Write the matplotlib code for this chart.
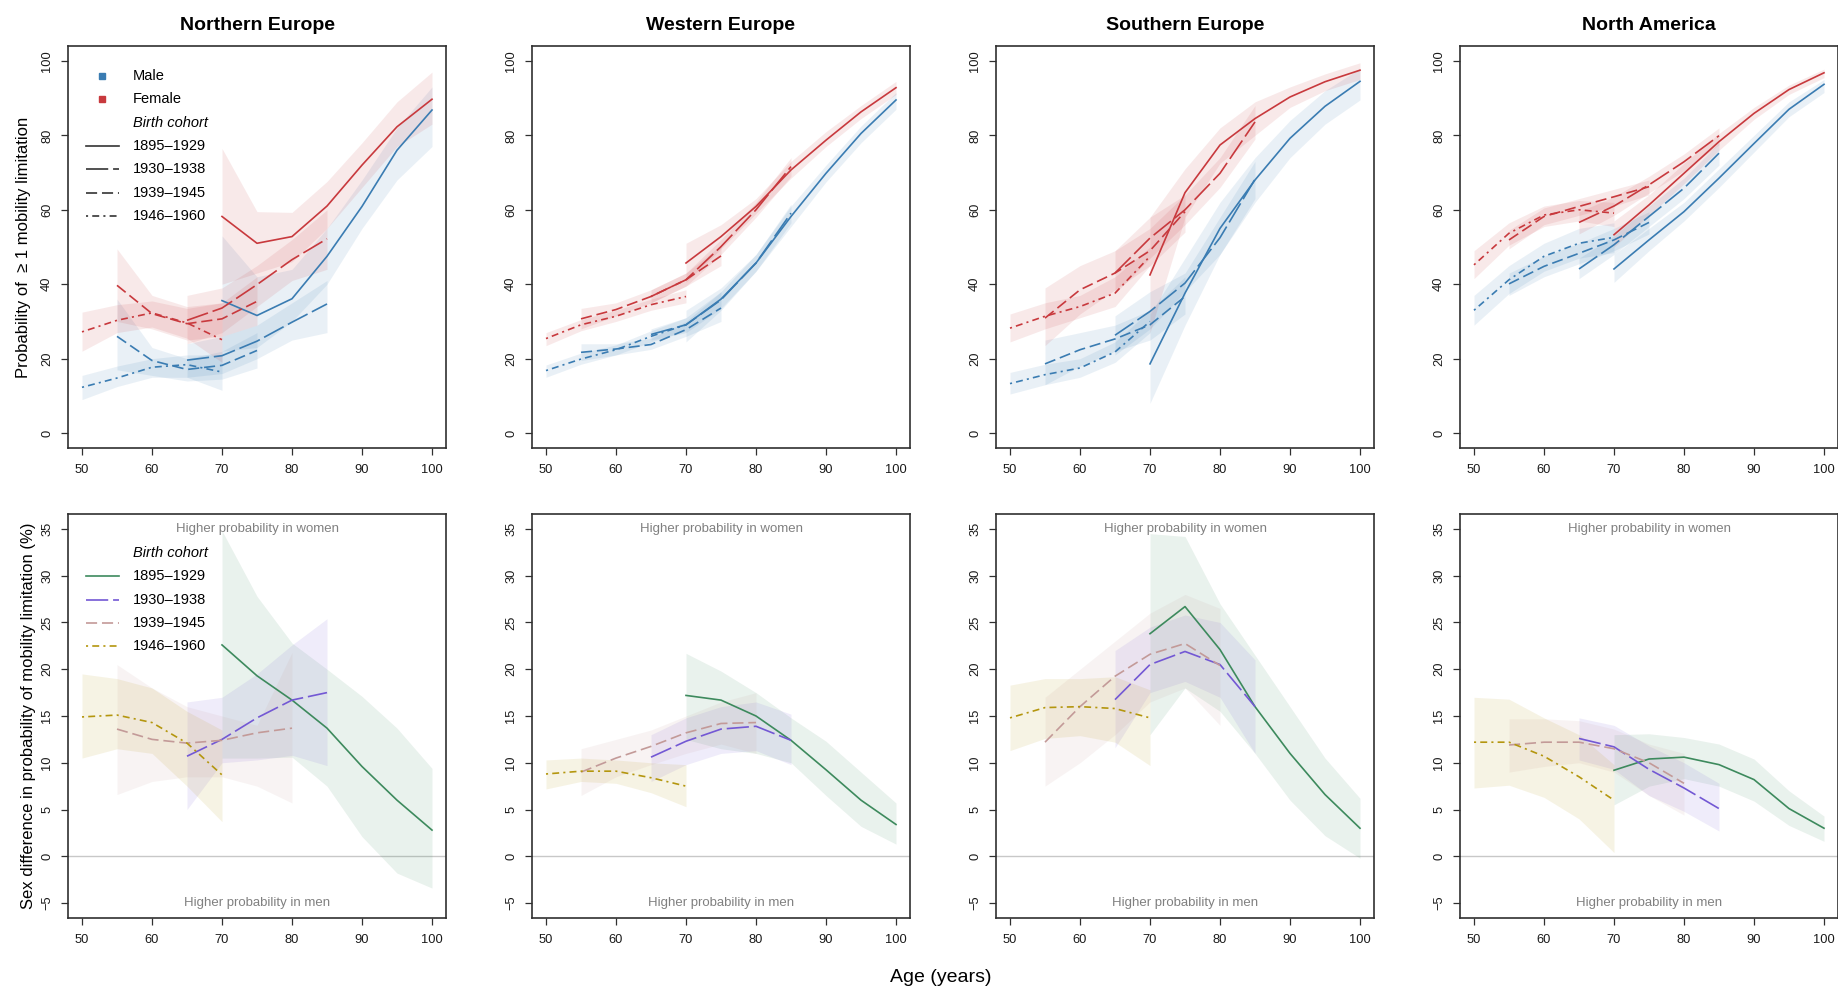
import matplotlib
matplotlib.use("Agg")
import matplotlib.pyplot as plt

plt.rcParams['font.family'] = ['Liberation Sans', 'DejaVu Sans']
plt.rcParams['lines.scale_dashes'] = False

# ---------------------------------------------------------------- data
regions = ["Northern Europe", "Western Europe", "Southern Europe", "North America"]
cohorts = ["1895–1929", "1930–1938", "1939–1945", "1946–1960"]

# ages observed for each birth cohort (probability panels)
ages_prob = [
    [70, 75, 80, 85, 90, 95, 100],
    [65, 70, 75, 80, 85],
    [55, 60, 65, 70, 75],
    [50, 55, 60, 65, 70],
]
# ages observed for each birth cohort (sex-difference panels)
ages_diff = [
    [70, 75, 80, 85, 90, 95, 100],
    [65, 70, 75, 80, 85],
    [55, 60, 65, 70, 75, 80],
    [50, 55, 60, 65, 70],
]

# Probability of >= 1 mobility limitation (%), per cohort: estimate, lower, upper
north_f_est = [[58.2, 51.0, 52.8, 61.0, 72.0, 82.3, 89.7], [30.3, 33.6, 39.9, 46.6, 52.2],
               [39.7, 32.1, 29.4, 30.7, 35.4], [27.2, 30.3, 32.3, 29.6, 25.1]]
north_f_lo = [[40, 43, 46, 55, 66, 77, 83], [24, 27, 34, 41, 44],
              [30, 28, 25, 26, 29], [22, 27, 28.5, 25.5, 19]]
north_f_hi = [[76.5, 59.5, 59.3, 67.6, 78, 89, 97], [37, 39, 45, 52, 60],
              [49.5, 37, 34, 35, 42], [32.5, 34.5, 35.5, 33.5, 35]]
north_m_est = [[35.6, 31.6, 36.1, 47.5, 60.9, 76.0, 86.8], [19.6, 20.8, 24.7, 29.8, 34.7],
               [26.0, 19.5, 17.1, 18.2, 22.2], [12.3, 14.8, 17.7, 18.4, 16.4]]
north_m_lo = [[22, 23, 30, 40, 55, 68, 77], [15, 16, 20, 25, 27],
              [17, 15.5, 14, 14.5, 17.5], [9, 12.5, 15, 15, 11.5]]
north_m_hi = [[53, 42, 44, 55, 68, 82, 93], [24, 26, 29, 35, 41],
              [36, 23, 20, 22, 27], [15.5, 18, 20, 21, 21]]

west_f_est = [[45.7, 52.8, 60.9, 70.7, 78.7, 86.3, 92.8], [36.7, 41.2, 50.1, 60.0, 71.6],
              [30.7, 33.2, 36.7, 41.2, 47.6], [25.4, 29.1, 31.4, 34.5, 36.7]]
west_f_lo = [[40.5, 49.5, 59, 68.5, 77, 84.5, 91], [35, 39.5, 48, 58, 69],
             [28, 31.5, 35, 39.5, 45], [23.5, 27.5, 30, 33, 35]]
west_f_hi = [[51, 56, 63, 73, 81, 88, 94.5], [38.5, 43, 52, 62, 74],
             [33.5, 35, 38.5, 43, 50.5], [27, 30.5, 33, 36, 38.5]]
west_m_est = [[29.1, 36.0, 45.7, 58.2, 69.8, 80.5, 89.5], [26.5, 29.1, 35.8, 45.7, 59.1],
              [21.7, 22.6, 23.8, 27.8, 33.6], [16.8, 19.9, 22.4, 26.0, 29.1]]
west_m_lo = [[24.5, 33, 43.5, 55.5, 67.5, 78, 87], [25, 27, 33.5, 43.5, 56.5],
             [19.5, 21, 22.5, 26, 30], [15, 18.5, 21, 24.5, 27.5]]
west_m_hi = [[33, 39, 48, 61, 72, 82.5, 91.5], [28, 31, 38, 48, 61.5],
             [24, 24, 25.5, 30, 38], [18.3, 21.5, 23.7, 27.5, 31]]

south_f_est = [[42.5, 64.6, 77.4, 84.5, 90.3, 94.4, 97.5], [43.0, 52.4, 60.0, 69.8, 83.6],
               [30.9, 38.5, 43.0, 49.0, 59.5], [28.2, 31.4, 34.0, 37.6, 47.5]]
south_f_lo = [[27, 58, 72.5, 80, 87.5, 92, 95], [37.5, 47, 56, 66, 79],
              [23.5, 32, 38.5, 45, 54], [24.5, 28, 31, 34, 45]]
south_f_hi = [[58, 71, 82, 89, 93, 96.5, 99.5], [49, 58, 64, 74, 88],
              [39, 45, 49, 55, 64], [32, 35, 37, 42, 50]]
south_m_est = [[18.6, 37.6, 55.0, 68.0, 79.2, 87.8, 94.5], [26.3, 32.7, 40.3, 52.5, 68.2],
               [18.6, 22.4, 25.3, 29.1, 36.7], [13.3, 15.7, 17.5, 21.8, 30.0]]
south_m_lo = [[8, 29, 48, 62, 74, 83, 89.5], [21, 28, 38, 48, 63],
              [13, 18, 22, 25, 32], [10.5, 13, 15, 19, 27]]
south_m_hi = [[32, 47, 62, 74, 84, 92, 98], [31.5, 38, 43, 58, 73],
              [25, 27, 29, 33, 42], [16.3, 18.5, 20, 24.5, 33]]

namer_f_est = [[53.3, 61.3, 69.8, 78.3, 85.9, 92.3, 96.8], [56.6, 61.0, 66.7, 72.9, 79.9],
               [51.9, 58.2, 60.9, 63.5, 66.2], [45.2, 53.7, 58.6, 60.0, 59.1]]
namer_f_lo = [[50, 58.5, 67, 76, 84.3, 91, 95.5], [53.5, 58.5, 64.5, 70.5, 77.5],
              [49.5, 56, 58.5, 61, 64], [41.5, 50.5, 55.5, 57, 55.5]]
namer_f_hi = [[57, 64, 72.5, 80.5, 87.5, 93.5, 97.8], [59.5, 63.5, 69, 75, 82],
              [54.5, 60.5, 63, 65.5, 68], [49, 56.5, 61, 62.5, 62]]
namer_m_est = [[44.1, 51.9, 59.5, 68.5, 77.8, 87.0, 93.7], [44.1, 50.6, 58.2, 65.8, 75.2],
               [40.1, 44.8, 48.3, 51.9, 56.6], [33.0, 41.2, 47.5, 51.0, 52.6]]
namer_m_lo = [[40.5, 49, 57, 66, 75.5, 85, 91.5], [41.5, 48, 55.5, 63, 72],
              [37, 42, 45.5, 49, 53.5], [29, 37.5, 43.5, 47, 48.5]]
namer_m_hi = [[48, 55, 62, 71, 80, 89, 95], [47, 53, 61, 68.5, 78],
              [43, 47.5, 51, 55, 59.5], [37, 45, 51, 55, 56.5]]

# Sex difference in probability (women minus men, %), per cohort
north_d_est = [[22.6, 19.3, 16.7, 13.7, 9.6, 6.0, 2.8], [10.7, 12.5, 14.8, 16.7, 17.5],
               [13.6, 12.5, 12.1, 12.4, 13.2, 13.7], [14.9, 15.1, 14.3, 12.1, 8.7]]
north_d_lo = [[10.5, 10.5, 10.6, 7.5, 2.1, -1.8, -3.4], [5.0, 10.0, 10.3, 10.8, 9.7],
              [6.6, 8.0, 8.5, 8.5, 7.5, 5.7], [10.5, 11.5, 11.0, 7.5, 3.7]]
north_d_hi = [[34.8, 27.8, 22.8, 20.0, 17.1, 13.7, 9.4], [16.5, 17.0, 19.5, 22.6, 25.4],
              [20.5, 18.0, 16.0, 15.0, 14.0, 21.8], [19.5, 19.0, 18.0, 15.5, 13.5]]

west_d_est = [[17.2, 16.7, 15.0, 12.4, 9.25, 6.0, 3.4], [10.6, 12.3, 13.6, 13.9, 12.4],
              [9.0, 10.5, 11.75, 13.2, 14.2, 14.3], [8.8, 9.1, 9.1, 8.4, 7.5]]
west_d_lo = [[12.5, 11.5, 11.0, 10.0, 6.5, 3.2, 1.3], [8.0, 9.8, 11.0, 11.3, 9.8],
             [6.5, 8.5, 9.8, 11.0, 12.0, 11.0], [7.2, 8.0, 7.8, 6.8, 5.3]]
west_d_hi = [[21.7, 19.8, 17.5, 14.8, 12.3, 9.0, 5.7], [13.0, 14.8, 16.0, 16.5, 15.2],
             [11.5, 12.5, 13.5, 15.0, 16.5, 17.5], [10.3, 10.5, 10.3, 10.0, 9.8]]

south_d_est = [[23.8, 26.7, 22.1, 16.0, 11.0, 6.6, 3.0], [16.75, 20.5, 21.9, 20.5, 16.0],
               [12.2, 16.0, 19.25, 21.6, 22.75, 20.4], [14.8, 15.9, 16.0, 15.8, 14.8]]
south_d_lo = [[13.0, 18.0, 15.5, 11.0, 6.0, 2.2, -0.2], [11.6, 17.5, 18.7, 17.0, 11.0],
              [7.5, 10.0, 13.0, 16.5, 18.0, 14.0], [11.3, 12.6, 12.9, 12.2, 9.7]]
south_d_hi = [[34.5, 34.2, 27.0, 21.5, 16.0, 10.5, 6.2], [22.0, 24.5, 25.8, 25.0, 21.0],
              [17.0, 20.0, 23.0, 26.0, 28.0, 26.5], [18.3, 19.0, 19.0, 19.2, 17.8]]

namer_d_est = [[9.2, 10.4, 10.6, 9.8, 8.2, 5.1, 3.0], [12.6, 11.7, 9.3, 7.3, 5.1],
               [11.9, 12.2, 12.2, 11.5, 10.0, 7.8], [12.2, 12.2, 10.7, 8.5, 6.0]]
namer_d_lo = [[5.5, 7.5, 8.3, 7.5, 5.9, 3.3, 1.6], [10.3, 9.3, 6.5, 4.8, 2.7],
              [9.0, 9.6, 10.0, 9.0, 6.5, 4.4], [7.3, 7.6, 6.3, 4.0, 0.4]]
namer_d_hi = [[13.0, 13.1, 12.7, 12.0, 10.4, 7.0, 4.3], [14.8, 14.0, 11.8, 10.0, 7.8],
              [14.7, 14.7, 14.5, 13.6, 12.0, 11.0], [17.0, 16.8, 14.8, 13.0, 9.8]]

prob_data = [
    (north_m_est, north_m_lo, north_m_hi, north_f_est, north_f_lo, north_f_hi),
    (west_m_est, west_m_lo, west_m_hi, west_f_est, west_f_lo, west_f_hi),
    (south_m_est, south_m_lo, south_m_hi, south_f_est, south_f_lo, south_f_hi),
    (namer_m_est, namer_m_lo, namer_m_hi, namer_f_est, namer_f_lo, namer_f_hi),
]
diff_data = [
    (north_d_est, north_d_lo, north_d_hi),
    (west_d_est, west_d_lo, west_d_hi),
    (south_d_est, south_d_lo, south_d_hi),
    (namer_d_est, namer_d_lo, namer_d_hi),
]

# ---------------------------------------------------------------- styles
male_col = '#3A7CB2'
female_col = '#C8393D'
cohort_cols = ['#3D8A5D', '#7358D4', '#C39A98', '#B4960E']
# solid, long dash, dash, dot-dash
dash_styles = ['-', (0, (16, 3.5)), (0, (8, 3.5)), (0, (1.5, 3, 5, 3))]
LW = 1.2
band_alpha = 0.11
axis_col = '#303030'

W, H = 1838, 989
fig = plt.figure(figsize=(W / 100, H / 100), dpi=100)

lefts = [68, 532, 996, 1460]
PW = 378
TOP_ROW = (46, 448)
BOT_ROW = (514, 918)


def make_axes(left, top, bottom):
    return fig.add_axes([left / W, 1 - bottom / H, PW / W, (bottom - top) / H])


def style_axes(ax, ylim, yticks):
    ax.set_xlim(48, 102)
    ax.set_ylim(*ylim)
    ax.set_xticks(range(50, 101, 10))
    ax.set_yticks(yticks)
    ax.tick_params(direction='out', length=5.2, width=0.9, labelsize=9.3,
                   color=axis_col, labelcolor='#1a1a1a')
    ax.tick_params(axis='x', pad=6.5)
    ax.tick_params(axis='y', pad=5.5, labelrotation=90)
    for lab in ax.get_yticklabels():
        lab.set_va('center')
    for s in ax.spines.values():
        s.set_linewidth(1.2)
        s.set_color(axis_col)


# ---------------------------------------------------------------- top row
top_axes = []
for i, region in enumerate(regions):
    ax = make_axes(lefts[i], *TOP_ROW)
    top_axes.append(ax)
    m_est, m_lo, m_hi, f_est, f_lo, f_hi = prob_data[i]
    for est, lo, hi, col in ((m_est, m_lo, m_hi, male_col), (f_est, f_lo, f_hi, female_col)):
        for k in range(4):
            ax.fill_between(ages_prob[k], lo[k], hi[k], color=col, alpha=band_alpha,
                            linewidth=0)
    for est, col in ((m_est, male_col), (f_est, female_col)):
        for k in range(4):
            ax.plot(ages_prob[k], est[k], color=col, lw=LW, linestyle=dash_styles[k])
    style_axes(ax, (-4, 104), range(0, 101, 20))
    ax.text(0.5, 1 + 20 / 402, region, transform=ax.transAxes, ha='center',
            va='center', fontsize=14, fontweight='bold')

# legend of the first probability panel
ax = top_axes[0]
y0, dy = 0.925, 0.058
tx = 0.172
for j, (lab, col) in enumerate((("Male", male_col), ("Female", female_col))):
    y = y0 - j * dy
    ax.plot([0.09], [y], marker='s', ms=4.2, color=col, transform=ax.transAxes,
            linestyle='none')
    ax.text(tx, y, lab, transform=ax.transAxes, va='center', fontsize=10.5)
ax.text(tx, y0 - 2 * dy, "Birth cohort", transform=ax.transAxes, va='center',
        fontsize=10.5, style='italic')
for k, lab in enumerate(cohorts):
    y = y0 - (3 + k) * dy
    ax.plot([0.048, 0.135], [y, y], color='#333333', lw=LW, linestyle=dash_styles[k],
            transform=ax.transAxes)
    ax.text(tx, y, lab, transform=ax.transAxes, va='center', fontsize=10.5)

top_axes[0].set_ylabel("Probability of  \u2265 1 mobility limitation", fontsize=12,
                       labelpad=7)

# ---------------------------------------------------------------- bottom row
bot_axes = []
for i, region in enumerate(regions):
    ax = make_axes(lefts[i], *BOT_ROW)
    bot_axes.append(ax)
    est, lo, hi = diff_data[i]
    ax.axhline(0, color='#c8c8c8', lw=1.0, zorder=0)
    for k in range(4):
        ax.fill_between(ages_diff[k], lo[k], hi[k], color=cohort_cols[k],
                        alpha=band_alpha, linewidth=0)
    for k in range(4):
        ax.plot(ages_diff[k], est[k], color=cohort_cols[k], lw=LW,
                linestyle=dash_styles[k])
    style_axes(ax, (-6.6, 36.6), range(-5, 36, 5))
    ax.text(75, 35, "Higher probability in women", ha='center', va='center',
            fontsize=9.5, color='#808080')
    ax.text(75, -5, "Higher probability in men", ha='center', va='center',
            fontsize=9.5, color='#808080')

ax = bot_axes[0]
y0, dy = 0.903, 0.0577
ax.text(tx, y0, "Birth cohort", transform=ax.transAxes, va='center',
        fontsize=10.5, style='italic')
for k, lab in enumerate(cohorts):
    y = y0 - (1 + k) * dy
    ax.plot([0.048, 0.135], [y, y], color=cohort_cols[k], lw=LW,
            linestyle=dash_styles[k], transform=ax.transAxes)
    ax.text(tx, y, lab, transform=ax.transAxes, va='center', fontsize=10.5)

bot_axes[0].set_ylabel("Sex difference in probability of mobility limitation (%)",
                       fontsize=12, labelpad=4)

fig.text(941 / W, 1 - 977 / H, "Age (years)", ha='center', va='center', fontsize=14)

fig.savefig("out.png", dpi=100)
